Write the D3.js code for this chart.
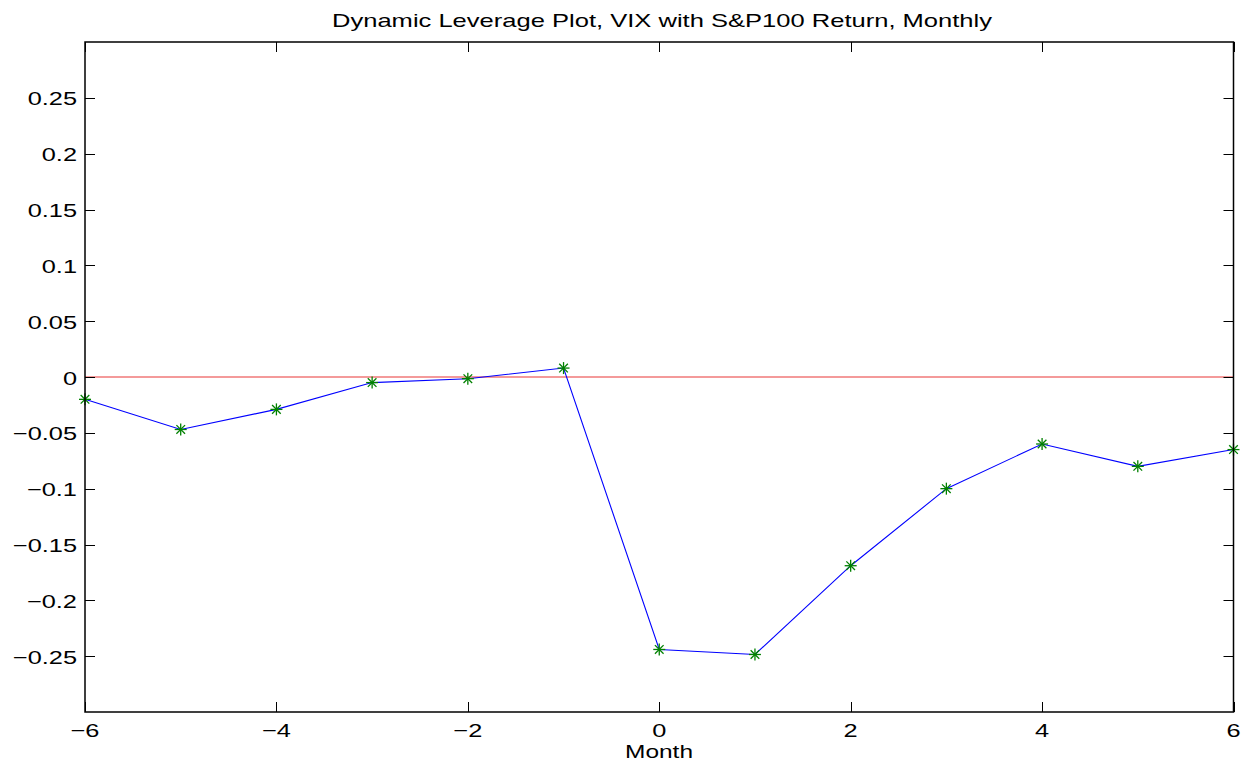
<!DOCTYPE html>
<html><head><meta charset="utf-8">
<script src="https://cdn.jsdelivr.net/npm/d3@7"></script>
<style>body{margin:0;background:#fff}text{font-family:"Liberation Sans",Arial,Helvetica,sans-serif;fill:#000}</style>
</head><body>
<svg id="c" width="1248" height="763"></svg>
<script>
const months = [-6,-5,-4,-3,-2,-1,0,1,2,3,4,5,6];
const leverage = [-0.020,-0.047,-0.029,-0.005,-0.0015,0.008,-0.244,-0.2485,-0.169,-0.100,-0.060,-0.080,-0.065];
const xTicks = [-6,-4,-2,0,2,4,6];
const yTicks = [-0.25,-0.2,-0.15,-0.1,-0.05,0,0.05,0.1,0.15,0.2,0.25];
const titleText = "Dynamic Leverage Plot, VIX with S&P100 Return, Monthly";
const xLabelText = "Month";

const L=85,R=1233.5,T=42,B=712;
const svg=d3.select("#c");
const x=d3.scaleLinear().domain([-6,6]).range([L,R]);
const y=d3.scaleLinear().domain([-0.3,0.3]).range([B,T]);
const SX=1.37;
function stretch(sel){sel.each(function(){const w=this.getComputedTextLength();this.setAttribute("textLength",w*SX);this.setAttribute("lengthAdjust","spacingAndGlyphs");});}
const fmt=v=>{const s=String(v);return s.replace("-","\u2212");};

// zero line
svg.append("line").attr("x1",x(-6)).attr("x2",x(6)).attr("y1",y(0)).attr("y2",y(0))
  .attr("stroke","#f07878").attr("stroke-width",1.6);

// ticks inward on all sides
const g=svg.append("g").attr("stroke","#000").attr("stroke-width",1);
const TL=10;
xTicks.forEach(v=>{const px=Math.round(x(v))+0.5;
  g.append("line").attr("x1",px).attr("x2",px).attr("y1",B).attr("y2",B-TL);
  g.append("line").attr("x1",px).attr("x2",px).attr("y1",T).attr("y2",T+TL);});
yTicks.forEach(v=>{const py=Math.round(y(v))+0.5;
  g.append("line").attr("x1",L).attr("x2",L+TL).attr("y1",py).attr("y2",py);
  g.append("line").attr("x1",R).attr("x2",R-TL).attr("y1",py).attr("y2",py);});

// data line
const line=d3.line().x((d,i)=>x(months[i])).y(d=>y(d));
svg.append("path").datum(leverage).attr("d",line).attr("fill","none").attr("stroke","#0000ff").attr("stroke-width",1.1);

// asterisk markers
const mk=svg.append("g").attr("stroke","#008000").attr("stroke-width",1.3);
leverage.forEach((v,i)=>{const cx=x(months[i]),cy=y(v),r=6,d=r*0.72;
  mk.append("line").attr("x1",cx-r).attr("x2",cx+r).attr("y1",cy).attr("y2",cy);
  mk.append("line").attr("x1",cx).attr("x2",cx).attr("y1",cy-r).attr("y2",cy+r);
  mk.append("line").attr("x1",cx-d).attr("x2",cx+d).attr("y1",cy-d).attr("y2",cy+d);
  mk.append("line").attr("x1",cx-d).attr("x2",cx+d).attr("y1",cy+d).attr("y2",cy-d);});

// box
svg.append("rect").attr("x",L).attr("y",T).attr("width",R-L).attr("height",B-T)
  .attr("fill","none").attr("stroke","#000").attr("stroke-width",1.5);

// tick labels
svg.append("g").selectAll("text").data(xTicks).join("text")
  .attr("x",d=>x(d)).attr("y",737).attr("text-anchor","middle").attr("font-size",18.5).text(fmt).call(stretch);
svg.append("g").selectAll("text").data(yTicks).join("text")
  .attr("x",77).attr("y",d=>y(d)+7.5).attr("text-anchor","end").attr("font-size",18.5).text(fmt).call(stretch);

// title and label
svg.append("text").attr("x",662).attr("y",27).attr("text-anchor","middle").attr("font-size",18.5).text(titleText)
  .attr("textLength",660).attr("lengthAdjust","spacingAndGlyphs");
svg.append("text").attr("x",659).attr("y",758).attr("text-anchor","middle").attr("font-size",19).text(xLabelText)
  .attr("textLength",68).attr("lengthAdjust","spacingAndGlyphs");
</script>
</body></html>
